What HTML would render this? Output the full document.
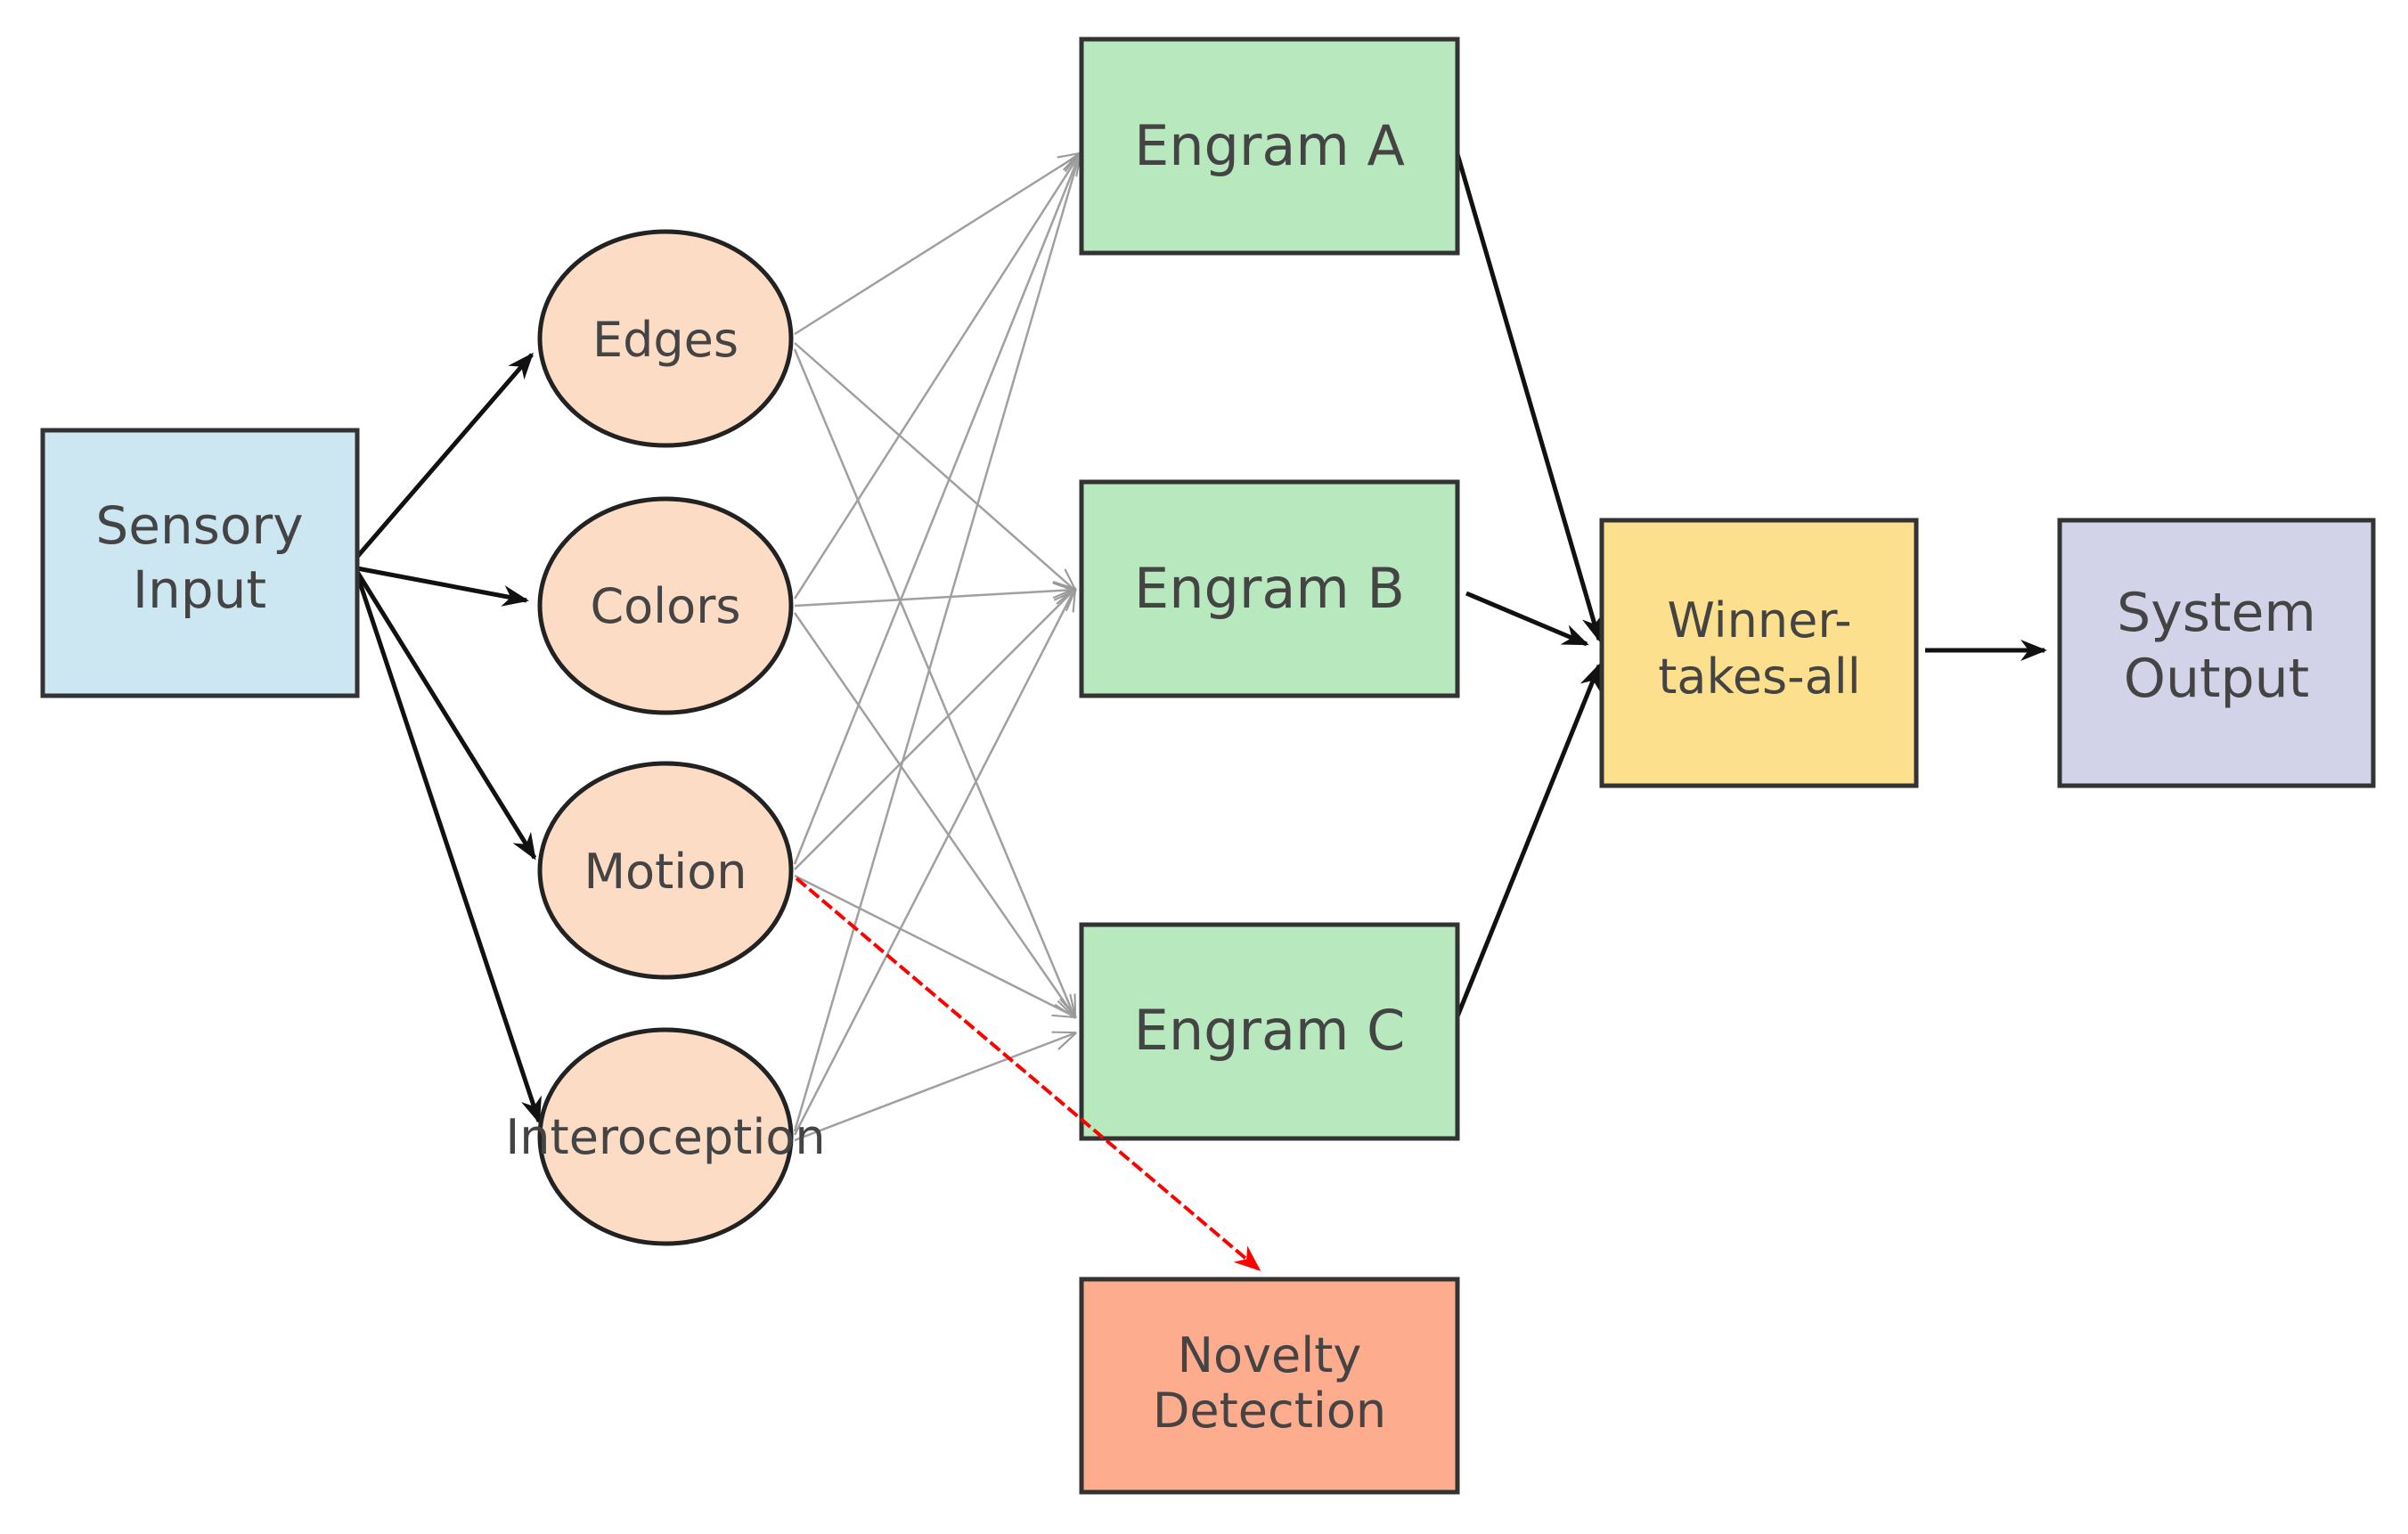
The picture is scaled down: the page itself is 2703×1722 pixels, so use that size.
<!DOCTYPE html>
<html><head><style>html,body{margin:0;padding:0;background:#fff}svg{display:block}</style></head>
<body>
<svg width="2703" height="1722" viewBox="0 0 2703 1722" xmlns="http://www.w3.org/2000/svg" font-family="DejaVu Sans, Liberation Sans, sans-serif">
<defs>
<marker id="ab" markerWidth="10" markerHeight="10" refX="9" refY="5" orient="auto" markerUnits="userSpaceOnUse" viewBox="0 0 10 10"><path d="M1,1 L9,5 L1,9" fill="none" stroke="#111" stroke-width="1.6"/></marker>
<marker id="ak" viewBox="0 0 10 10" refX="9" refY="5" markerWidth="30" markerHeight="30" markerUnits="userSpaceOnUse" orient="auto"><path d="M0,1 L10,5 L0,9 L3,5 Z" fill="#111"/></marker>
<marker id="ag" viewBox="0 0 10 10" refX="9" refY="5" markerWidth="26" markerHeight="26" markerUnits="userSpaceOnUse" orient="auto"><path d="M0,1 L10,5 L0,9" fill="none" stroke="#999" stroke-width="0.8"/></marker>
<marker id="ar" viewBox="0 0 10 10" refX="9" refY="5" markerWidth="30" markerHeight="30" markerUnits="userSpaceOnUse" orient="auto"><path d="M0,1 L10,5 L0,9 L3,5 Z" fill="#f00"/></marker>
</defs>

<!-- gray connections -->
<g stroke="#a0a0a0" stroke-width="2.5" fill="none" marker-end="url(#ag)">
<line x1="892" y1="375" x2="1212" y2="173"/>
<line x1="892" y1="385" x2="1206" y2="662"/>
<line x1="892" y1="392" x2="1206" y2="1141"/>
<line x1="892" y1="672" x2="1212" y2="173"/>
<line x1="892" y1="680" x2="1206" y2="662"/>
<line x1="892" y1="688" x2="1206" y2="1141"/>
<line x1="892" y1="970" x2="1212" y2="173"/>
<line x1="892" y1="976" x2="1206" y2="662"/>
<line x1="892" y1="983" x2="1206" y2="1141"/>
<line x1="892" y1="1270" x2="1212" y2="173"/>
<line x1="892" y1="1274" x2="1206" y2="662"/>
<line x1="892" y1="1280" x2="1206" y2="1160"/>
</g>

<!-- black arrows -->
<g stroke="#111" stroke-width="5" fill="none" marker-end="url(#ak)">
<line x1="401" y1="625" x2="597" y2="398"/>
<line x1="401" y1="638" x2="591" y2="674"/>
<line x1="401" y1="642" x2="600" y2="963"/>
<line x1="401" y1="645" x2="605" y2="1259"/>
<line x1="1636" y1="173" x2="1795" y2="718"/>
<line x1="1646" y1="666" x2="1781" y2="723"/>
<line x1="1636" y1="1141" x2="1795" y2="747"/>
<line x1="2161" y1="730" x2="2295" y2="730"/>
</g>

<!-- ellipses -->
<g fill="#fddcc6" stroke="#222" stroke-width="5">
<ellipse cx="747" cy="380" rx="141" ry="120"/>
<ellipse cx="747" cy="680" rx="141" ry="120"/>
<ellipse cx="747" cy="977" rx="141" ry="120"/>
<ellipse cx="747" cy="1276" rx="141" ry="120"/>
</g>

<!-- boxes -->
<g stroke="#333" stroke-width="5">
<rect x="48" y="483" width="353" height="298" fill="#cce6f2"/>
<rect x="1214" y="44" width="422" height="240" fill="#b8e8bd"/>
<rect x="1214" y="541" width="422" height="240" fill="#b8e8bd"/>
<rect x="1214" y="1038" width="422" height="240" fill="#b8e8bd"/>
<rect x="1214" y="1436" width="422" height="239" fill="#fdac8e"/>
<rect x="1798" y="584" width="353" height="298" fill="#fde08e"/>
<rect x="2312" y="584" width="352" height="298" fill="#d2d2e8"/>
</g>

<!-- red dashed -->
<line x1="894" y1="986" x2="1413" y2="1425" stroke="#f00" stroke-width="4" stroke-dasharray="14,5" marker-end="url(#ar)"/>

<!-- text -->
<g fill="#444" text-anchor="middle">
<text x="224" y="610" font-size="58">Sensory</text>
<text x="224" y="682" font-size="58">Input</text>
<text x="747" y="400" font-size="54">Edges</text>
<text x="747" y="699" font-size="54">Colors</text>
<text x="747" y="997" font-size="54">Motion</text>
<text x="747" y="1295" font-size="54">Interoception</text>
<text x="1425" y="185" font-size="62">Engram A</text>
<text x="1425" y="682" font-size="62">Engram B</text>
<text x="1425" y="1178" font-size="62">Engram C</text>
<text x="1425" y="1540" font-size="54">Novelty</text>
<text x="1425" y="1602" font-size="54">Detection</text>
<text x="1975" y="715" font-size="54">Winner-</text>
<text x="1975" y="778" font-size="54">takes-all</text>
<text x="2488" y="708" font-size="60">System</text>
<text x="2488" y="782" font-size="60">Output</text>
</g>
</svg>
</body></html>
